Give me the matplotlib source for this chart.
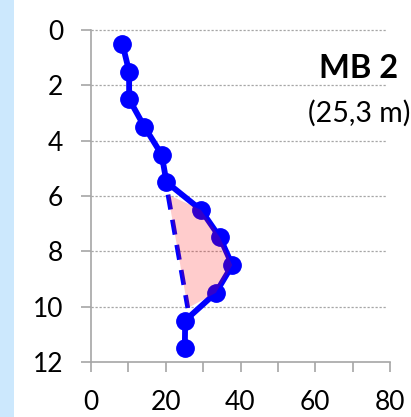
import matplotlib
matplotlib.use("Agg")
import matplotlib.pyplot as plt
from matplotlib.patches import Rectangle, Polygon
from matplotlib.ticker import MultipleLocator

plt.rcParams['font.family'] = ['Lato', 'DejaVu Sans']

# Profile values (x) against depth (y)
depth = [0.5, 1.5, 2.5, 3.5, 4.5, 5.5, 6.5, 7.5, 8.5, 9.5, 10.5, 11.5]
value = [8.4, 10.2, 10.2, 14.3, 18.9, 20.2, 29.4, 34.5, 37.8, 33.4, 25.2, 25.1]

# Reference (dashed) line bounding the shaded zone
ref_x = [20.6, 25.9]
ref_y = [5.95, 10.05]
zone_idx = [6, 7, 8, 9]

title = "MB 2"
subtitle = "(25,3 m)"
x_ticks = [0, 20, 40, 60, 80]
y_ticks = [0, 2, 4, 6, 8, 10, 12]

W, H = 411, 417
fig = plt.figure(figsize=(W / 100, H / 100), dpi=100)
fig.patches.append(Rectangle((0, 0), 14 / W, 1, transform=fig.transFigure,
                             facecolor="#cce8fd", edgecolor="none", zorder=0))

ax = fig.add_axes([91 / W, 1 - 362 / H, 299 / W, 332 / H])
ax.set_xlim(0, 80)
ax.set_ylim(12, 0)

grid_c = "#a6a6a6"
for y in y_ticks[:-1]:
    ax.plot([0, 79.3], [y, y], color=grid_c, lw=0.9, ls=(0, (1.8, 1.4)),
            zorder=1, clip_on=False)

for s in ["top", "right"]:
    ax.spines[s].set_visible(False)
for s in ["left", "bottom"]:
    ax.spines[s].set_color(grid_c)
    ax.spines[s].set_linewidth(1.2)

ax.xaxis.set_minor_locator(MultipleLocator(10))
ax.set_xticks(x_ticks)
ax.set_yticks(y_ticks)
ax.tick_params(axis="both", which="both", direction="out", color=grid_c,
               width=1.2, labelsize=19, labelcolor="black")
ax.tick_params(axis="x", which="both", length=7, pad=13)
ax.tick_params(axis="y", length=7, pad=13)

ax.plot(value, depth, color="#0000ff", lw=4.2, marker="o",
        markersize=12.5, zorder=3, clip_on=False)
ax.plot(ref_x, ref_y, color="#0000ff", lw=3.4, ls=(0, (3.2, 2.2)), zorder=3)

poly = [(ref_x[0], ref_y[0])] + [(value[i], depth[i]) for i in zone_idx] + \
       [(ref_x[1], ref_y[1])]
ax.add_patch(Polygon(poly, closed=True, facecolor="red", alpha=0.2,
                     edgecolor="none", zorder=4))

fig.text(398 / W, 1 - 68 / H, title, ha="right", va="center",
         fontsize=23.5, fontweight="bold")
fig.text(410 / W, 1 - 113 / H, subtitle, ha="right", va="center", fontsize=20.5)

fig.savefig("out.png", dpi=100, facecolor="white")
